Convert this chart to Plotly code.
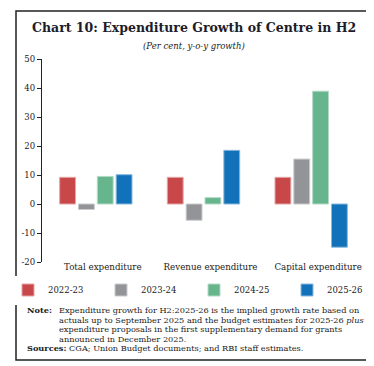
import plotly.graph_objects as go

categories = ["Total expenditure", "Revenue expenditure", "Capital expenditure"]
series_names = ["2022-23", "2023-24", "2024-25", "2025-26"]
v_2022_23 = [9.2, 9.2, 9.2]
v_2023_24 = [-1.9, -5.6, 15.5]
v_2024_25 = [9.5, 2.2, 38.9]
v_2025_26 = [10.1, 18.5, -14.9]
series_values = [v_2022_23, v_2023_24, v_2024_25, v_2025_26]
colors = ["#C8484A", "#939498", "#66B58C", "#1272B9"]
edge_colors = ["#E4A3A4", "#C9CACC", "#B2DAC5", "#88B8DC"]
y_tickvals = [-20, -10, 0, 10, 20, 30, 40, 50]
y_ticktext = ["-20", "-10", "0", "10", "20", "30", "40", "50"]

W, H = 374, 366


def fx(px):
    return px / W


def fy(py):
    return 1 - py / H


FONT = "DejaVu Serif"
TXT = "#1a1a1a"

fig = go.Figure()
for name, vals, c, ec in zip(series_names, series_values, colors, edge_colors):
    fig.add_trace(go.Bar(
        x=categories, y=vals, name=name,
        marker=dict(color=c, line=dict(color=ec, width=1)),
    ))

fig.update_layout(
    width=W, height=H,
    margin=dict(l=0, r=0, t=0, b=0, pad=0, autoexpand=False),
    paper_bgcolor="white", plot_bgcolor="white",
    barmode="group", bargap=0.30, bargroupgap=0.16,
    font=dict(family=FONT, size=8.5, color=TXT),
    showlegend=True,
    legend=dict(
        orientation="h", x=0, y=fy(282), xanchor="left", yanchor="middle",
        entrywidth=48, entrywidthmode="pixels", indentation=0,
        font=dict(family=FONT, size=8.5, color=TXT),
        itemclick=False, tracegroupgap=0,
    ),
    xaxis=dict(
        domain=[fx(34), fx(357)],
        type="category", range=[-0.5, 2.5], showline=False, ticks="",
        showgrid=False, zeroline=False,
        tickfont=dict(family=FONT, size=8.7, color=TXT),
        ticklabelshift=7, ticklabelstandoff=-2,
    ),
    xaxis2=dict(
        domain=[fx(34), fx(357)],
        overlaying="x", anchor="free", position=fy(196), range=[-0.5, 2.5],
        showline=True, linecolor="#222", linewidth=1.2,
        ticks="outside", ticklen=4, tickcolor="#222", tickwidth=1,
        tickvals=[0.5, 1.5, 2.5], showticklabels=False, showgrid=False,
        zeroline=False,
    ),
    yaxis=dict(
        domain=[fy(254), fy(51)],
        range=[-20, 50], showline=True, linecolor="#222", linewidth=1.2,
        ticks="outside", ticklen=4, tickcolor="#222", tickwidth=1,
        tickvals=y_tickvals, ticktext=y_ticktext, showgrid=False, zeroline=False,
        tickfont=dict(family=FONT, size=8.5, color=TXT),
    ),
)

# outer frame
fig.add_shape(type="rect", xref="paper", yref="paper",
              x0=fx(8), x1=fx(366), y0=fy(352), y1=fy(3),
              line=dict(color="#222", width=1.5), fillcolor="rgba(0,0,0,0)", layer="below")

ann = []
ann.append(dict(text="<b>Chart 10: Expenditure Growth of Centre in H2</b>",
                x=fx(186), y=fy(20), font=dict(size=12.5, family=FONT, color="#1c1c2a"),
                xanchor="center", yanchor="middle"))
ann.append(dict(text="<i>(Per cent, y-o-y growth)</i>",
                x=fx(186), y=fy(38), font=dict(size=8.5, family=FONT, color=TXT),
                xanchor="center", yanchor="middle"))
note_lines = [
    "Expenditure growth for H2:2025-26 is the implied growth rate based on",
    "actuals up to September 2025 and the budget estimates for 2025-26 <i>plus</i>",
    "expenditure proposals in the first supplementary demand for grants",
    "announced in December 2025.",
]
note_y = [302, 311.5, 321, 330.5]
NS = 8.2
ann.append(dict(text="<b>Note:</b>", x=fx(17), y=fy(note_y[0]),
                font=dict(size=NS, family=FONT, color=TXT), xanchor="left", yanchor="middle"))
for t, yy in zip(note_lines, note_y):
    ann.append(dict(text=t, x=fx(49), y=fy(yy), font=dict(size=NS, family=FONT, color=TXT),
                    xanchor="left", yanchor="middle"))
ann.append(dict(text="<b>Sources:</b> CGA; Union Budget documents; and RBI staff estimates.",
                x=fx(17), y=fy(340), font=dict(size=NS, family=FONT, color=TXT),
                xanchor="left", yanchor="middle"))
for a in ann:
    a.update(xref="paper", yref="paper", showarrow=False)
fig.update_layout(annotations=ann)

fig.write_html("out.html")
